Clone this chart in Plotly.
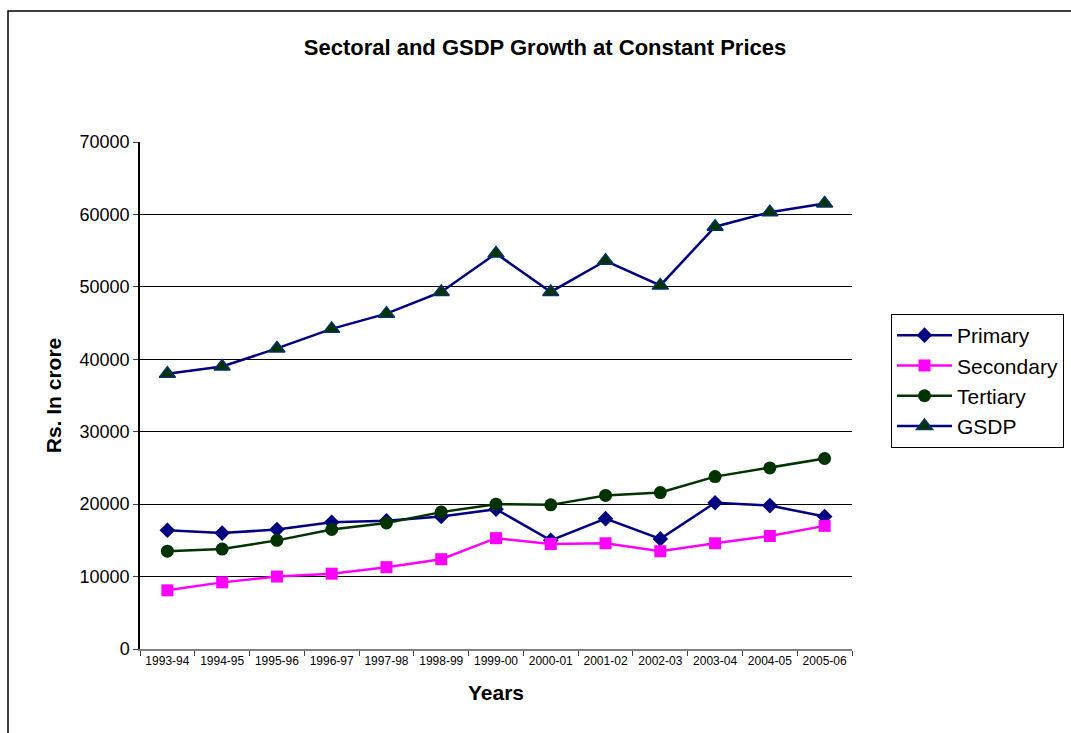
import plotly.graph_objects as go

years = ["1993-94", "1994-95", "1995-96", "1996-97", "1997-98", "1998-99", "1999-00",
         "2000-01", "2001-02", "2002-03", "2003-04", "2004-05", "2005-06"]
primary = [16400, 16000, 16500, 17500, 17700, 18300, 19300, 15000, 18000, 15200, 20200, 19800, 18300]
secondary = [8100, 9200, 10000, 10400, 11300, 12400, 15300, 14500, 14600, 13500, 14600, 15600, 17000]
tertiary = [13500, 13800, 15000, 16500, 17400, 18900, 20000, 19900, 21200, 21600, 23800, 25000, 26300]
gsdp = [38000, 39000, 41500, 44200, 46300, 49300, 54600, 49300, 53600, 50200, 58300, 60300, 61500]

fig = go.Figure()
fig.add_trace(go.Scatter(x=years, y=primary, name="Primary", mode="lines+markers",
                         line=dict(color="#000080", width=2.5),
                         marker=dict(symbol="diamond", size=12, color="#000080")))
fig.add_trace(go.Scatter(x=years, y=secondary, name="Secondary", mode="lines+markers",
                         line=dict(color="#FF00FF", width=2.5),
                         marker=dict(symbol="square", size=12, color="#FF00FF")))
fig.add_trace(go.Scatter(x=years, y=tertiary, name="Tertiary", mode="lines+markers",
                         line=dict(color="#003300", width=2.5),
                         marker=dict(symbol="circle", size=13, color="#003300")))
fig.add_trace(go.Scatter(x=years, y=gsdp, name="GSDP", mode="lines+markers",
                         line=dict(color="#000080", width=2.5),
                         marker=dict(symbol="triangle-up", size=14, color="#003300",
                                     line=dict(color="#003366", width=1.5))))

fig.update_layout(
    width=1071, height=733,
    margin=dict(l=140, r=219, t=142, b=84),
    paper_bgcolor="white", plot_bgcolor="white",
    font=dict(family="Liberation Sans, Arial, sans-serif", color="black"),
    title=dict(text="<b>Sectoral and GSDP Growth at Constant Prices</b>",
               x=545 / 1071, xanchor="center", y=1 - 47 / 733, yanchor="middle",
               font=dict(size=22, color="black")),
    showlegend=True,
    legend=dict(xref="container", yref="container",
                x=891 / 1071, xanchor="left", y=1 - 314 / 733, yanchor="top",
                bordercolor="black", borderwidth=1, bgcolor="white",
                font=dict(size=21, color="black"), tracegroupgap=0,
                itemwidth=55),
    xaxis=dict(type="category", range=[-0.5, 12.5],
               title=dict(text="<b>Years</b>", font=dict(size=21), standoff=18),
               tickfont=dict(size=12, color="black"),
               showline=True, linecolor="#808080", linewidth=1.5,
               ticks="outside", ticklen=5, tickcolor="#404040",
               tickson="boundaries", showgrid=False),
    yaxis=dict(range=[0, 70000], dtick=10000, tickformat="d",
               title=dict(text="<b>Rs. In crore</b>", font=dict(size=21), standoff=12),
               tickfont=dict(size=18, color="black"),
               showline=True, linecolor="black", linewidth=1.5,
               ticks="outside", ticklen=5, tickcolor="#404040",
               showgrid=True, gridcolor="black", gridwidth=1, zeroline=False),
    shapes=[dict(type="rect", xref="paper", yref="paper",
                 x0=(8 - 140) / 712, x1=1.6,
                 y0=-0.3, y1=(649 - 11) / 507,
                 line=dict(color="black", width=1.5), fillcolor="rgba(0,0,0,0)",
                 layer="below")],
)

fig.write_html("out.html", config={"displayModeBar": False},
               post_script="document.body.style.margin='0';document.body.style.overflow='hidden';")
